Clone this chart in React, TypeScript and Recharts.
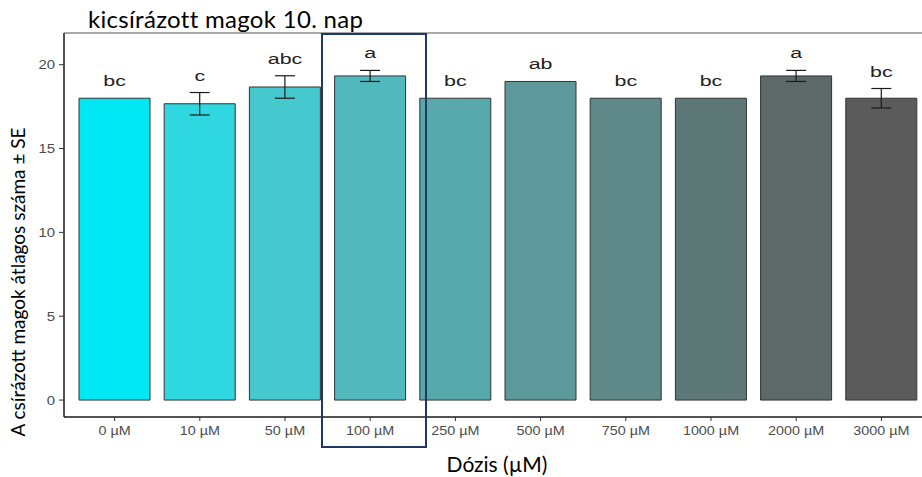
import React from 'react'
import { ComposedChart, Bar, Line, XAxis, YAxis, ErrorBar, LabelList, Cell, ReferenceLine } from 'recharts'

// dose groups and germinated seed means (day 10)
const doses = ['0 µM', '10 µM', '50 µM', '100 µM', '250 µM', '500 µM', '750 µM', '1000 µM', '2000 µM', '3000 µM']
const means = [18, 17.67, 18.67, 19.33, 18, 19, 18, 18, 19.33, 18]
const errors = [0, 0.67, 0.67, 0.33, 0, 0, 0, 0, 0.33, 0.58]
const letters = ['bc', 'c', 'abc', 'a', 'bc', 'ab', 'bc', 'bc', 'a', 'bc']
const barColors = ['#00E8F4', '#2FD8E0', '#45C8CE', '#51B8BD', '#57A8AB', '#5D999A', '#5F8989', '#5E7878', '#5D6868', '#5B5B5B']
const yTicks = [0, 5, 10, 15, 20]

const calibri = 'Lato, "Open Sans", sans-serif'
const arial = '"Liberation Sans", Arial, sans-serif'

// the source image is stretched sideways, so the plot texts are too
const XTick = ({ x, y, payload }: any) => (
    <g transform={`translate(${x},${y}) scale(1.15,1)`}>
        <text x={0} y={0} dy="0.71em" textAnchor="middle" fill="#4d4d4d" fontSize={12.5} fontFamily={arial}>
            {payload.value}
        </text>
    </g>
)

const YTick = ({ x, y, payload }: any) => (
    <g transform={`translate(${x},${y}) scale(1.15,1)`}>
        <text x={0} y={0} dy="0.355em" textAnchor="end" fill="#4d4d4d" fontSize={13} fontFamily={arial}>
            {payload.value}
        </text>
    </g>
)

const LetterLabel = ({ x, y, value }: any) => (
    <g transform={`translate(${x},${y - 12}) scale(1.38,1)`}>
        <text x={0} y={0} textAnchor="middle" fill="#222" fontSize={15.5} fontFamily={arial}>
            {value}
        </text>
    </g>
)

export default function App() {
    const data = React.useMemo(() => doses.map((dose, i) => ({
        dose,
        mean: means[i],
        se: errors[i],
        top: means[i] + errors[i],
        letter: letters[i],
    })), [])

    return (
        <div style={{ position: 'absolute', left: 0, top: 0, width: 922, height: 477, overflow: 'hidden', background: '#fff' }}>
            <ComposedChart width={940} height={477} data={data} margin={{ top: 33, right: 0, bottom: 0, left: 0 }}>
                <XAxis
                    dataKey="dose"
                    height={60}
                    padding={{ left: 8, right: 16 }}
                    axisLine={{ stroke: '#1a1a1a', strokeWidth: 1.5 }}
                    tickLine={{ stroke: '#333' }}
                    tickSize={4}
                    tickMargin={5}
                    tick={<XTick />}
                    interval={0}
                    label={{
                        content: () => (
                            <text x={497} y={472} textAnchor="middle" fontFamily={calibri} fontSize={21} fill="#000">Dózis (µM)</text>
                        ),
                    }}
                />
                <YAxis
                    width={64}
                    domain={[-1.01, 21.89]}
                    ticks={yTicks}
                    allowDataOverflow
                    axisLine={{ stroke: '#1a1a1a', strokeWidth: 1.5 }}
                    tickLine={{ stroke: '#333' }}
                    tickSize={5}
                    tickMargin={4}
                    tick={<YTick />}
                    label={{
                        content: () => (
                            <text x={25} y={282} transform="rotate(-90 25 282)" textAnchor="middle" fontFamily={calibri} fontSize={19} fill="#000">
                                A csírázott magok átlagos száma ± SE
                            </text>
                        ),
                    }}
                />
                <ReferenceLine y={21.89} stroke="#8c8c8c" strokeWidth={1.5} />
                <Bar dataKey="mean" barSize={71} stroke="#333" strokeWidth={1} isAnimationActive={false}>
                    {data.map((d, i) => (
                        <Cell key={d.dose} fill={barColors[i]} />
                    ))}
                    <ErrorBar dataKey="se" width={10} stroke="#1a1a1a" strokeWidth={1.2} direction="y" />
                </Bar>
                <Line dataKey="top" stroke="none" dot={false} activeDot={false} isAnimationActive={false}>
                    <LabelList dataKey="letter" content={<LetterLabel />} />
                </Line>
            </ComposedChart>
            <div style={{ position: 'absolute', left: 88, top: 4, fontFamily: calibri, fontSize: 24, letterSpacing: 0.3, lineHeight: '30px', color: '#000', whiteSpace: 'nowrap' }}>
                kicsírázott magok 10. nap
            </div>
            <div style={{ position: 'absolute', left: 321, top: 33, width: 106, height: 415, border: '2.5px solid #1F3864', boxSizing: 'border-box' }} />
        </div>
    )
}
